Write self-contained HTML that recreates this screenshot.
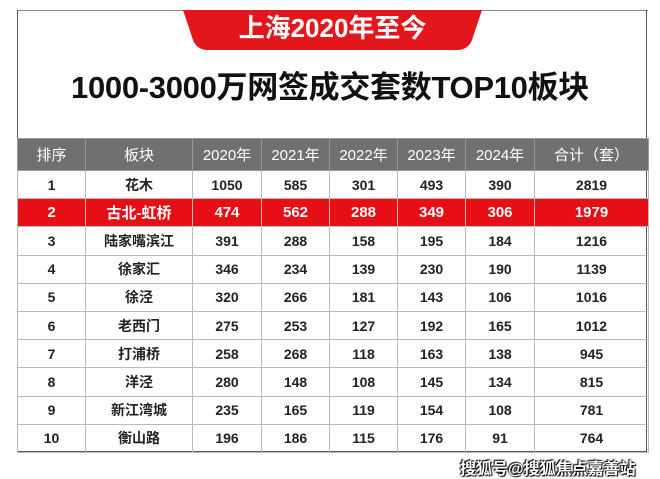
<!DOCTYPE html>
<html><head><meta charset="utf-8"><style>
body{margin:0;width:660px;height:476px;background:#fff;position:relative;overflow:hidden;font-family:"Liberation Sans","Noto Sans CJK SC",sans-serif;}
.box{position:absolute;left:17px;top:10px;width:630px;height:442px;border:1px solid #555;border-top:none;box-sizing:border-box;}
.topline{position:absolute;left:17px;top:10px;width:631px;height:1px;background:#888;}
.banner{position:absolute;left:183px;top:10px;width:299px;height:40px;}
.banner span{position:absolute;left:0;top:0;width:299px;text-align:center;color:#fff;font-size:26px;font-weight:bold;line-height:36px;}
.title{position:absolute;left:0;width:660px;top:62px;text-align:center;font-size:31px;font-weight:bold;color:#111;letter-spacing:-0.3px;}
table{position:absolute;left:17px;top:138px;width:631px;border-collapse:collapse;table-layout:fixed;}
td{border:1px solid #bbb;text-align:center;font-size:14px;font-weight:bold;color:#222;height:27.2px;padding:0;}
tr.h td{background:#707070;color:#fff;height:31px;border-color:#999;font-weight:normal;font-size:15px;}
tr.r td{background:#e60f16;color:#fff;font-size:15px;}
.wm{position:absolute;left:460px;top:455px;font-size:16px;font-weight:bold;color:#fff;text-shadow:0 0 2px #000,1px 1px 1px #000,-1px -1px 1px #000;}
</style></head><body>
<div class="topline"></div>
<div class="box"></div>
<div class="banner"><svg width="299" height="40"><path d="M0 0 H299 L289 30 Q285 40 274 40 H25 Q14 40 10 30 Z" fill="#e3161b"/></svg><span>上海2020年至今</span></div>
<div class="title">1000-3000万网签成交套数TOP10板块</div>
<table>
<colgroup><col style="width:68px"><col style="width:107px"><col style="width:69px"><col style="width:68px"><col style="width:68px"><col style="width:68px"><col style="width:69px"><col style="width:114px"></colgroup>
<tr class="h"><td>排序</td><td>板块</td><td>2020年</td><td>2021年</td><td>2022年</td><td>2023年</td><td>2024年</td><td>合计（套）</td></tr>
<tr><td>1</td><td>花木</td><td>1050</td><td>585</td><td>301</td><td>493</td><td>390</td><td>2819</td></tr>
<tr class="r"><td>2</td><td>古北-虹桥</td><td>474</td><td>562</td><td>288</td><td>349</td><td>306</td><td>1979</td></tr>
<tr><td>3</td><td>陆家嘴滨江</td><td>391</td><td>288</td><td>158</td><td>195</td><td>184</td><td>1216</td></tr>
<tr><td>4</td><td>徐家汇</td><td>346</td><td>234</td><td>139</td><td>230</td><td>190</td><td>1139</td></tr>
<tr><td>5</td><td>徐泾</td><td>320</td><td>266</td><td>181</td><td>143</td><td>106</td><td>1016</td></tr>
<tr><td>6</td><td>老西门</td><td>275</td><td>253</td><td>127</td><td>192</td><td>165</td><td>1012</td></tr>
<tr><td>7</td><td>打浦桥</td><td>258</td><td>268</td><td>118</td><td>163</td><td>138</td><td>945</td></tr>
<tr><td>8</td><td>洋泾</td><td>280</td><td>148</td><td>108</td><td>145</td><td>134</td><td>815</td></tr>
<tr><td>9</td><td>新江湾城</td><td>235</td><td>165</td><td>119</td><td>154</td><td>108</td><td>781</td></tr>
<tr><td>10</td><td>衡山路</td><td>196</td><td>186</td><td>115</td><td>176</td><td>91</td><td>764</td></tr>
</table>
<div class="wm">搜狐号@搜狐焦点嘉善站</div>
</body></html>
